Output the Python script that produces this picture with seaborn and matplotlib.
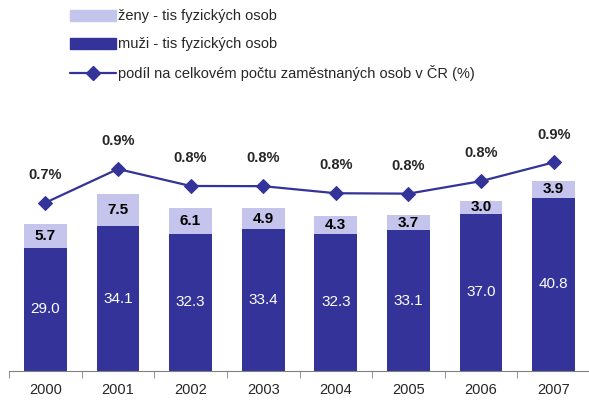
import numpy as np
import pandas as pd
import matplotlib
matplotlib.use("Agg")
import matplotlib.pyplot as plt
import seaborn as sns
from matplotlib.patches import Patch
from matplotlib.lines import Line2D

# data
years = ["2000", "2001", "2002", "2003", "2004", "2005", "2006", "2007"]
muzi = [29.0, 34.1, 32.3, 33.4, 32.3, 33.1, 37.0, 40.8]
zeny = [5.7, 7.5, 6.1, 4.9, 4.3, 3.7, 3.0, 3.9]
podil = [0.713, 0.88, 0.796, 0.795, 0.76, 0.758, 0.82, 0.913]
podil_labels = ["0.7%", "0.9%", "0.8%", "0.8%", "0.8%", "0.8%", "0.8%", "0.9%"]

dark = "#333399"
light = "#c4c4ec"

sns.set_style("white")
plt.rcParams["font.family"] = ["Liberation Sans", "DejaVu Sans"]

df = pd.DataFrame({"rok": years, "muzi": muzi, "zeny": zeny})
df["celkem"] = df["muzi"] + df["zeny"]

fig = plt.figure(figsize=(5.89, 4.0), dpi=100)
ax = fig.add_axes([9 / 589, 29 / 400, 581 / 589, 271 / 400])

# stacked bars: total first (light), men on top of it (dark)
sns.barplot(data=df, x="rok", y="celkem", color=light, width=0.59,
            saturation=1, linewidth=0, ax=ax)
sns.barplot(data=df, x="rok", y="muzi", color=dark, width=0.59,
            saturation=1, linewidth=0, ax=ax)

for i in range(len(years)):
    ax.text(i, muzi[i] / 2, f"{muzi[i]:.1f}", ha="center", va="center",
            color="white", fontsize=11)
    ax.text(i, muzi[i] + zeny[i] / 2, f"{zeny[i]:.1f}", ha="center",
            va="center", color="black", fontsize=11, fontweight="bold")

ax.set_ylim(0, 63.8)
ax.set_xlim(-0.5, 7.5)
ax.set_xlabel("")
ax.set_ylabel("")
ax.set_yticks([])
for s in ["left", "right", "top"]:
    ax.spines[s].set_visible(False)
ax.spines["bottom"].set_color("#808080")
ax.set_xticks(range(len(years)))
ax.set_xticklabels(years, fontsize=10.5)
ax.set_xticks(np.arange(-0.5, 8.0, 1.0), minor=True)
ax.tick_params(axis="x", which="major", length=0, pad=9)
ax.tick_params(axis="x", which="minor", length=5, color="#808080",
               direction="out", bottom=True)

# share line on a second axis
ax2 = ax.twinx()
sns.lineplot(x=np.arange(len(years)), y=podil, color=dark, marker="D",
             markersize=7.5, markeredgecolor=dark, linewidth=1.6, ax=ax2)
for i, lab in enumerate(podil_labels):
    ax2.annotate(lab, (i, podil[i]), xytext=(0, 20), textcoords="offset points",
                 ha="center", va="center", fontsize=10.5, fontweight="bold")
ax2.set_ylim(-0.12, 1.2216)
ax2.set_xlim(-0.5, 7.5)
ax2.set_yticks([])
for s in ["left", "right", "top", "bottom"]:
    ax2.spines[s].set_visible(False)

handles = [Patch(color=light), Patch(color=dark),
           Line2D([], [], color=dark, marker="D", markersize=7, linewidth=1.6)]
labels = ["ženy - tis fyzických osob", "muži - tis fyzických osob",
          "podíl na celkovém počtu zaměstnaných osob v ČR (%)"]
fig.legend(handles, labels, loc="upper left", bbox_to_anchor=(61 / 589, 1.0),
           frameon=False, fontsize=10.5, handlelength=3.1, handleheight=0.8,
           handletextpad=0.15, labelspacing=0.95, borderaxespad=0.25)

fig.savefig("out.png", dpi=100)
